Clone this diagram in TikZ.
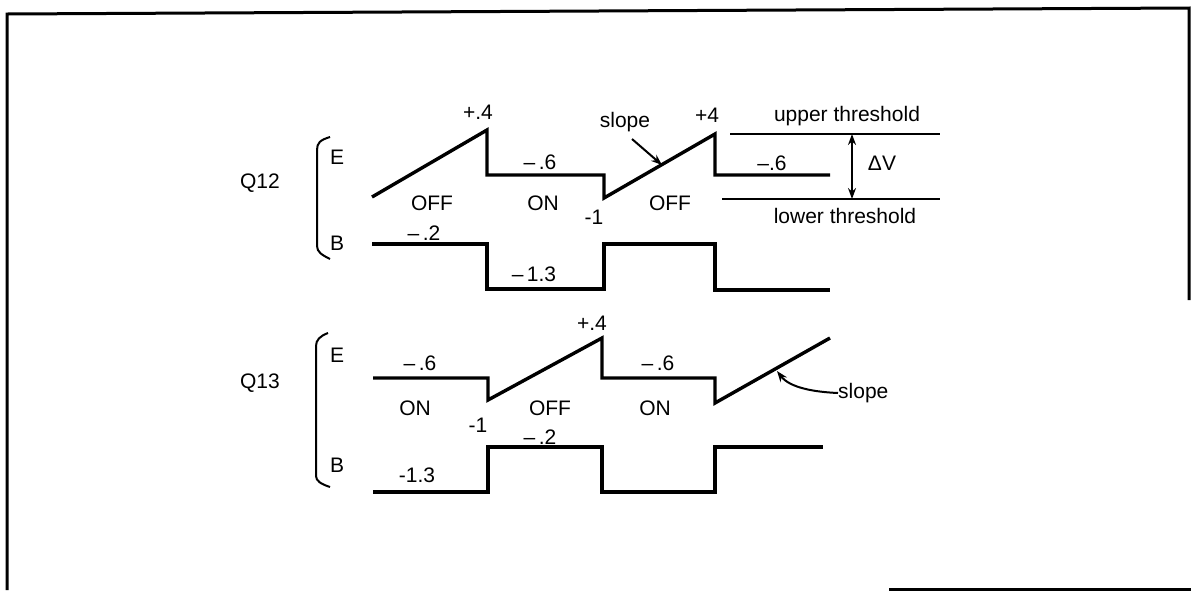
\documentclass[tikz,border=0pt]{standalone}
\usepackage{fontspec}
\setmainfont{Liberation Sans}
\usetikzlibrary{arrows.meta}
\begin{document}
\begin{tikzpicture}[x=1pt,y=-1pt,
  wave/.style={line width=3.4pt,line join=miter,line cap=butt},
  thin/.style={line width=1.8pt},
  lbl/.style={font=\fontsize{21}{23}\selectfont,inner sep=0pt},
  brk/.style={line width=2pt},
  arr/.style={line width=2pt,-{Stealth[length=11pt,width=8pt]}}]
\useasboundingbox (0,0) rectangle (1191,590);
% frame
\draw[line width=3pt] (1189,300) -- (1189,8) -- (7,14) -- (7,590);
\draw[line width=3pt] (889,589) -- (1191,589);
% ---------------- Q12 ----------------
\node[lbl] (q12) at (260,183) {Q12};
\draw[brk] (330,137) .. controls (320,140) and (317,143) .. (317,150) -- (317,246) .. controls (317,252) and (322,255) .. (330,259);
\node[lbl] (e12) at (337,157) {E};
\node[lbl] (b12) at (337,243) {B};
\coordinate (p1) at (372,197);
\draw[wave] (p1) -- (487,130) -- (487,175) -- (604,175) -- (604,198) -- (715,134) -- (715,175) -- (830,175);
\draw[wave] (372,244) -- (487,244) -- (487,289) -- (604,289) -- (604,244) -- (715,244) -- (715,290) -- (830,290);
\node[lbl] (t1) at (478,112) {+.4};
\node[lbl] (t2) at (540,162) {\textendash\,.6};
\node[lbl] (t3) at (432,203) {OFF};
\node[lbl] (t4) at (543,203) {ON};
\node[lbl] (t5) at (594,217) {-1};
\node[lbl] (s12) at (625,122) {slope};
\coordinate (s12tip) at (662,165);
\draw[arr] (632,139) -- (s12tip);
\node[lbl] (t6) at (707,115) {+4};
\node[lbl] (t7) at (670,203) {OFF};
\node[lbl] (t8) at (772,163) {\textendash.6};
\coordinate (ut1) at (730,134);
\coordinate (ut2) at (940,134);
\coordinate (lt1) at (722,199);
\coordinate (lt2) at (940,199);
\draw[thin] (ut1) -- (ut2);
\draw[thin] (lt1) -- (lt2);
\coordinate (dvu) at (852,134);
\coordinate (dvl) at (852,199);
\draw[line width=2pt,{Stealth[length=11pt,width=8pt]}-{Stealth[length=11pt,width=8pt]}] (dvu) -- (dvl);
\node[lbl] (ut) at (847,116) {upper threshold};
\node[lbl] (dv) at (882,163) {ΔV};
\node[lbl] (lt) at (845,216) {lower threshold};
\node[lbl] (t9) at (424,233) {\textendash\,.2};
\node[lbl] (t10) at (534,274) {\textendash\,1.3};
% ---------------- Q13 ----------------
\node[lbl] (q13) at (260,383) {Q13};
\draw[brk] (328,333) .. controls (320,336) and (316,340) .. (316,346) -- (316,476) .. controls (316,481) and (321,484) .. (330,487);
\node[lbl] (e13) at (337,355) {E};
\node[lbl] (b13) at (337,465) {B};
\draw[wave] (373,378) -- (488,378) -- (488,400) -- (602,338) -- (602,378) -- (715,378) -- (715,403) -- (830,338);
\draw[wave] (373,492) -- (488,492) -- (488,447) -- (602,447) -- (602,492) -- (715,492) -- (715,447) -- (823,447);
\node[lbl] (u1) at (420,363) {\textendash\,.6};
\node[lbl] (u2) at (415,408) {ON};
\node[lbl] (u3) at (478,425) {-1};
\node[lbl] (u4) at (550,408) {OFF};
\node[lbl] (u5) at (592,323) {+.4};
\node[lbl] (u6) at (540,437) {\textendash\,.2};
\node[lbl] (u7) at (658,363) {\textendash\,.6};
\node[lbl] (u8) at (655,408) {ON};
\node[lbl] (u9) at (417,475) {-1.3};
\node[lbl,anchor=west] (s13) at (838,393) {slope};
\coordinate (s13tip) at (777,371);
\draw[arr] (s13.west) .. controls (815,392) and (790,388) .. (s13tip);
\end{tikzpicture}
\end{document}
